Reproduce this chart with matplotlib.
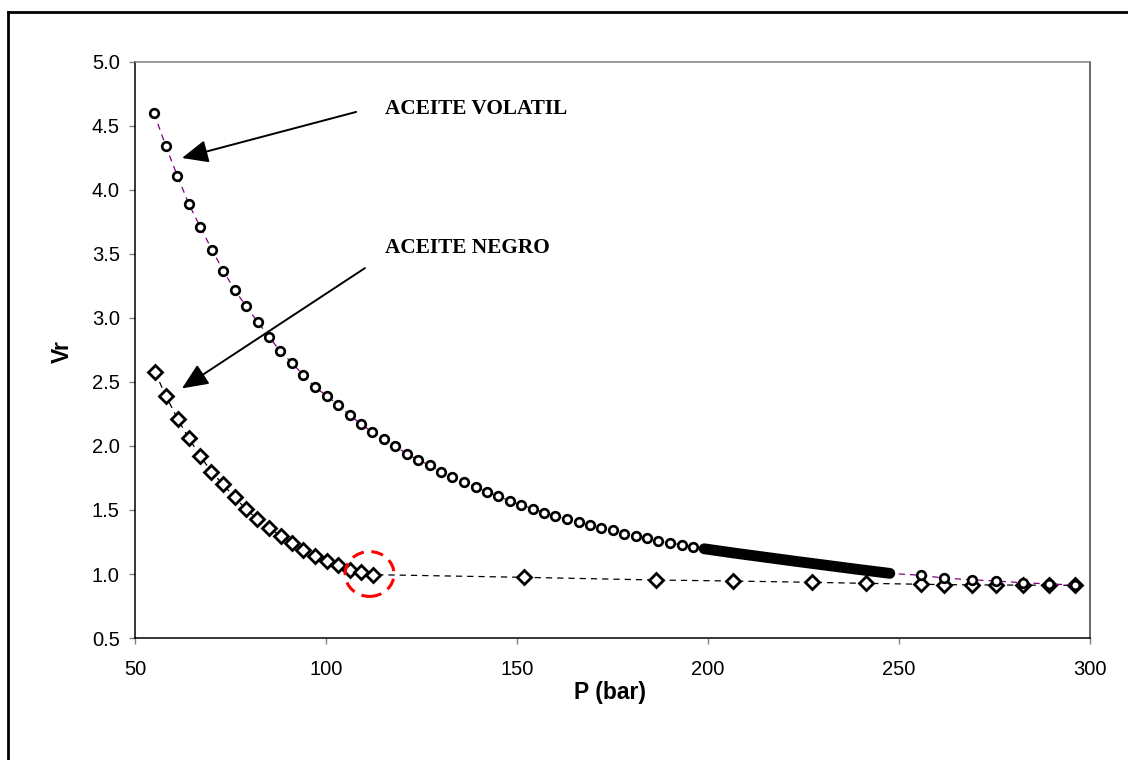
import matplotlib.pyplot as plt
import matplotlib.patches as patches
from matplotlib.lines import Line2D

# Volatile oil (circles)
p_vol = [55.0, 58.1, 61.1, 64.1, 67.1, 70.2, 73.1, 76.1, 79.1, 82.1, 85.2, 88.0,
         91.1, 94.0, 97.1, 100.3, 103.2, 106.2, 109.2, 112.1, 115.2, 118.1, 121.1, 124.2,
         127.1, 130.1, 133.1, 136.1, 139.2, 142.1, 145.1, 148.1, 151.1, 154.1, 157.1, 160.0,
         163.1, 166.1, 169.0, 172.1, 175.0, 178.1, 181.1, 184.0, 187.0, 190.0, 193.1, 196.1]
vr_vol = [4.60, 4.34, 4.11, 3.89, 3.71, 3.53, 3.37, 3.22, 3.09, 2.97, 2.85, 2.74,
          2.65, 2.555, 2.46, 2.39, 2.32, 2.24, 2.17, 2.11, 2.055, 2.00, 1.94, 1.89,
          1.85, 1.80, 1.76, 1.72, 1.68, 1.64, 1.61, 1.57, 1.54, 1.51, 1.48, 1.45,
          1.43, 1.41, 1.38, 1.36, 1.34, 1.315, 1.30, 1.28, 1.26, 1.24, 1.23, 1.21]

# dense stretch (markers merge into a solid band)
p_band = [199.0, 207.0, 215.0, 223.0, 231.0, 239.0, 247.6]
vr_band = [1.197, 1.163, 1.131, 1.099, 1.068, 1.037, 1.005]

p_vol_tail = [255.7, 261.8, 269.0, 275.5, 282.5, 289.3, 296.2]
vr_vol_tail = [0.99, 0.968, 0.955, 0.945, 0.932, 0.922, 0.914]

# Black oil (diamonds)
p_neg = [55.2, 58.1, 61.2, 64.1, 67.1, 70.0, 73.0, 76.1, 79.1, 82.0, 85.0, 88.1,
         91.1, 94.1, 97.1, 100.3, 103.2, 106.3, 109.2, 112.3,
         151.9, 186.3, 206.6, 227.3, 241.3, 255.7, 261.8, 269.0, 275.5, 282.5, 289.3, 296.2]
vr_neg = [2.58, 2.39, 2.21, 2.06, 1.92, 1.80, 1.70, 1.60, 1.505, 1.43, 1.36, 1.30,
          1.24, 1.19, 1.14, 1.10, 1.07, 1.035, 1.015, 0.995,
          0.974, 0.953, 0.945, 0.935, 0.927, 0.92, 0.917, 0.915, 0.914, 0.913, 0.912, 0.912]

x_ticks = [50, 100, 150, 200, 250, 300]
y_ticks = [0.5, 1.0, 1.5, 2.0, 2.5, 3.0, 3.5, 4.0, 4.5, 5.0]

C_PURPLE = "#800080"

fig = plt.figure(figsize=(11.28, 7.6), dpi=100, facecolor="white")
ax = fig.add_axes([135/1128, 1 - 638/760, 955/1128, 576/760])

# black oil
ax.plot(p_neg, vr_neg, color="black", lw=0.9, dashes=(5, 4), zorder=2)
ax.plot(p_neg, vr_neg, ls="none", marker="D", ms=7.5, mfc="white", mec="black", mew=2.0, zorder=3)

# volatile oil
p_all = p_vol + p_band + p_vol_tail
vr_all = vr_vol + vr_band + vr_vol_tail
ax.plot(p_all, vr_all, color=C_PURPLE, lw=0.9, dashes=(5, 4), zorder=4)
ax.plot(p_vol + p_vol_tail, vr_vol + vr_vol_tail, ls="none", marker="o", ms=6.2,
        mfc="white", mec="black", mew=1.9, zorder=5)
ax.plot(p_band, vr_band, color="black", lw=7.8, solid_capstyle="round", zorder=5)

# red dashed ring around the bubble point
ring = patches.Ellipse((111.4, 1.0), 12.8, 0.35, fill=False, edgecolor="red",
                       lw=2.2, ls=(0, (4, 2.5)), zorder=6)
ax.add_patch(ring)

# annotations
arrow = dict(arrowstyle="-|>,head_length=0.8,head_width=0.35", lw=1.4, color="black",
             mutation_scale=20, shrinkA=0, shrinkB=0)
ax.annotate("", xy=(62.3, 4.25), xytext=(107.9, 4.61), arrowprops=arrow)
ax.annotate("", xy=(62.3, 2.45), xytext=(110.2, 3.39), arrowprops=arrow)
ax.text(115.4, 4.63, "ACEITE VOLATIL", family="Liberation Serif", weight="bold",
        fontsize=15.3, va="center", ha="left")
ax.text(115.4, 3.55, "ACEITE NEGRO", family="Liberation Serif", weight="bold",
        fontsize=15.3, va="center", ha="left")

ax.set_xlim(50, 300)
ax.set_ylim(0.5, 5.0)
ax.set_xticks(x_ticks)
ax.set_yticks(y_ticks)
ax.set_yticklabels([f"{v:.1f}" for v in y_ticks])
ax.tick_params(direction="out", length=4, width=1, color="#808080", labelsize=14.5)
ax.tick_params(axis="x", pad=12)
ax.tick_params(axis="y", pad=7)
for lab in ax.get_xticklabels() + ax.get_yticklabels():
    lab.set_family("Liberation Sans")

ax.spines["left"].set_color("black")
ax.spines["bottom"].set_color("black")
ax.spines["top"].set_color("#808080")
ax.spines["right"].set_color("#404040")
for s in ax.spines.values():
    s.set_linewidth(1.1)

fig.text(610/1128, 1 - 692/760, "P (bar)", family="Liberation Sans", weight="bold",
         fontsize=16.5, ha="center", va="center")
fig.text(62/1128, 1 - 352/760, "Vr", family="Liberation Sans", weight="bold",
         fontsize=16.5, ha="center", va="center", rotation=90)

# outer chart border (only top and left visible)
fig.add_artist(Line2D([8/1128, 8/1128], [0, 1 - 12/760], color="black", lw=2))
fig.add_artist(Line2D([8/1128, 1], [1 - 12/760, 1 - 12/760], color="black", lw=2))

fig.savefig("out.png", dpi=100)
